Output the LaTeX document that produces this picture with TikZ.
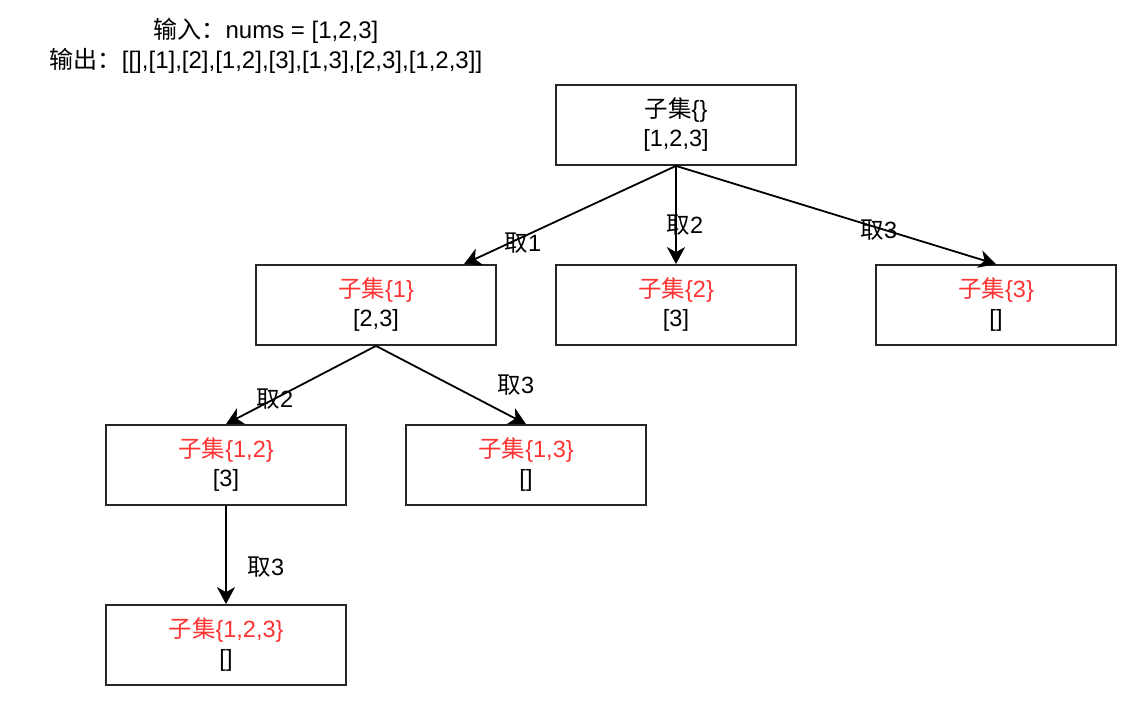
\documentclass[tikz,border=0pt]{standalone}
\usepackage{fontspec}
\setmainfont{Liberation Sans}
\newfontfamily\cjkfont{Noto Sans CJK SC}
\newcommand{\zh}[1]{{\cjkfont #1}}
\usetikzlibrary{arrows.meta}
\definecolor{redtxt}{HTML}{FF3333}
\newcommand{\rt}[1]{\textcolor{redtxt}{#1}}
\begin{document}
\begin{tikzpicture}[x=1pt,y=-1pt,
  box/.style={draw=black!85, line width=1.8pt, minimum width=240pt, minimum height=80pt,
    inner sep=0pt, align=center, font=\fontsize{23.5}{29}\selectfont},
  conn/.style={line width=1.8pt, -{Stealth[length=17pt,width=18pt,inset=5pt]}},
  lbl/.style={font=\fontsize{23.5}{29}\selectfont, inner sep=0pt}]
\useasboundingbox (0,0) rectangle (1134,701);
\node[lbl, align=center, font=\fontsize{24}{30}\selectfont] (hdr) at (266,46)
  {\zh{输入：}nums = [1,2,3]\\{\zh{输出：}[[],[1],[2],[1,2],[3],[1,3],[2,3],[1,2,3]]}};
\node[box] (root) at (676,125) {\zh{子集}\{\}\\{[1,2,3]}};
\node[box] (A) at (376,305) {\rt{\zh{子集}\{1\}}\\{[2,3]}};
\node[box] (B) at (676,305) {\rt{\zh{子集}\{2\}}\\{[3]}};
\node[box] (C) at (996,305) {\rt{\zh{子集}\{3\}}\\{[]}};
\node[box] (D) at (226,465) {\rt{\zh{子集}\{1,2\}}\\{[3]}};
\node[box] (E) at (526,465) {\rt{\zh{子集}\{1,3\}}\\{[]}};
\node[box] (F) at (226,645) {\rt{\zh{子集}\{1,2,3\}}\\{[]}};
\coordinate (Ain) at ([xshift=88pt]A.north);
\draw[conn] (root.south) -- (Ain);
\draw[conn] (root.south) -- (B.north);
\draw[conn] (root.south) -- (C.north);
\draw[conn] (A.south) -- (D.north);
\draw[conn] (A.south) -- (E.north);
\draw[conn] (D.south) -- (F.north);
\node[lbl] (l1) at (523,243) {\zh{取}1};
\node[lbl] (l2) at (685,225) {\zh{取}2};
\node[lbl] (l3) at (879,230) {\zh{取}3};
\node[lbl] (l4) at (275,399) {\zh{取}2};
\node[lbl] (l5) at (516,385) {\zh{取}3};
\node[lbl] (l6) at (266,567) {\zh{取}3};
\end{tikzpicture}
\end{document}
